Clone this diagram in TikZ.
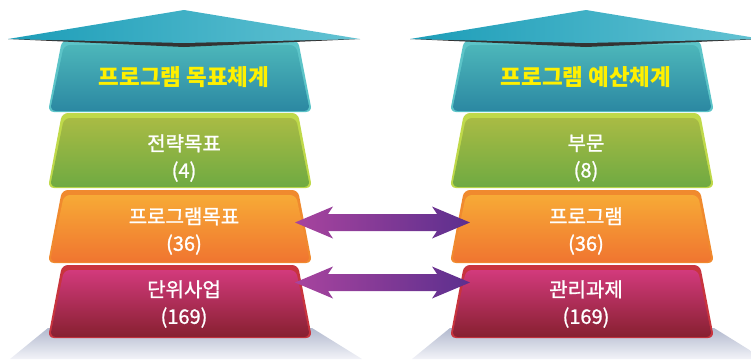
\documentclass[tikz,border=0pt]{standalone}
\usepackage{fontspec}
\newfontfamily\krfont{Noto Sans CJK KR}
\newfontfamily\krmed{Noto Sans CJK KR}[FakeBold=1.2]
\usetikzlibrary{calc}
\definecolor{capL}{HTML}{1C9DB8}
\definecolor{capR}{HTML}{64C3D3}
\definecolor{ttlY}{HTML}{FFF000}
\definecolor{arrL}{HTML}{A8449E}
\definecolor{arrR}{HTML}{5C2F8E}
\definecolor{crE}{HTML}{C8343E}
\definecolor{crT}{HTML}{D23A7C}
\definecolor{crB}{HTML}{872030}
\definecolor{orE}{HTML}{F08A2E}
\definecolor{orT}{HTML}{F7AA36}
\definecolor{orB}{HTML}{F07530}
\definecolor{grE}{HTML}{BFD94A}
\definecolor{grT}{HTML}{A9BB44}
\definecolor{grB}{HTML}{6FAA42}
\definecolor{tlE}{HTML}{5CC4C8}
\definecolor{tlT}{HTML}{4CB6BA}
\definecolor{tlB}{HTML}{2B88A2}
\definecolor{flT}{HTML}{B2B9CE}
\definecolor{flB}{HTML}{F2F3F8}
\newcommand\tierbox[6]{%
  \fill[#4, rounded corners=6pt] (#1-118,#2) -- (#1+118,#2) -- (#1+132,#3) -- (#1-132,#3) -- cycle;
  \shade[top color=#5, bottom color=#6, rounded corners=6pt] (#1-116,#2+5) -- (#1+116,#2+5) -- (#1+130,#3-1) -- (#1-130,#3-1) -- cycle;
}
\newcommand\capshape[1]{%
  \fill[black!80] (#1-172,39) -- (#1+4,41) -- (#1+180,39) -- (#1+4,47) -- cycle;
  \shade[left color=capL, right color=capR] (#1-172,39) -- (#1+4,10) -- (#1+180,39) -- (#1+4,43) -- cycle;
}
\newcommand\floorshape[1]{%
  \shade[top color=flT, bottom color=flB] (#1-132,328) -- (#1+132,328) -- (#1+182,359) -- (#1-170,359) -- cycle;
}
\begin{document}
\begin{tikzpicture}[x=1pt,y=-1pt,
  lbl/.style={text=white, align=center, font=\krmed\fontsize{20}{27}\selectfont, inner sep=0pt},
  ttl/.style={text=ttlY, font=\krfont\bfseries\fontsize{22.5}{24}\selectfont, inner sep=0pt},
  arrfill/.style={left color=arrL, right color=arrR}]
\useasboundingbox (0,0) rectangle (751,359);
% floors
\floorshape{180}
\floorshape{582}
% left stack
\tierbox{180}{265}{338}{crE}{crT}{crB}
\tierbox{180}{190}{263}{orE}{orT}{orB}
\tierbox{180}{113}{188}{grE}{grT}{grB}
\tierbox{180}{40}{112}{tlE}{tlT}{tlB}
\capshape{180}
% right stack
\tierbox{582}{265}{338}{crE}{crT}{crB}
\tierbox{582}{190}{263}{orE}{orT}{orB}
\tierbox{582}{113}{188}{grE}{grT}{grB}
\tierbox{582}{40}{112}{tlE}{tlT}{tlB}
\capshape{582}
% texts left
\node[ttl] (lt) at (184,77) {프로그램 목표체계};
\node[lbl] (l1) at (184,158) {전략목표\\(4)};
\node[lbl] (l2) at (184,231) {프로그램목표\\(36)};
\node[lbl] (l3) at (184,304) {단위사업\\(169)};
% texts right
\node[ttl] (rt) at (586,77) {프로그램 예산체계};
\node[lbl] (r1) at (586,158) {부문\\(8)};
\node[lbl] (r2) at (586,231) {프로그램\\(36)};
\node[lbl] (r3) at (586,304) {관리과제\\(169)};
% arrows
\coordinate (a1) at (295,222.5);
\coordinate (b1) at (470,222.5);
\coordinate (a2) at (295,282.5);
\coordinate (b2) at (470,282.5);
\foreach \p/\q in {a1/b1,a2/b2}{
  \shade[arrfill] (\p) -- ($(\p)+(38,-16)$) -- ($(\p)+(33,-8.5)$) -- ($(\q)+(-33,-8.5)$) -- ($(\q)+(-38,-16)$)
    -- (\q) -- ($(\q)+(-38,16)$) -- ($(\q)+(-33,8.5)$) -- ($(\p)+(33,8.5)$) -- ($(\p)+(38,16)$) -- cycle;
}
\end{tikzpicture}
\end{document}
